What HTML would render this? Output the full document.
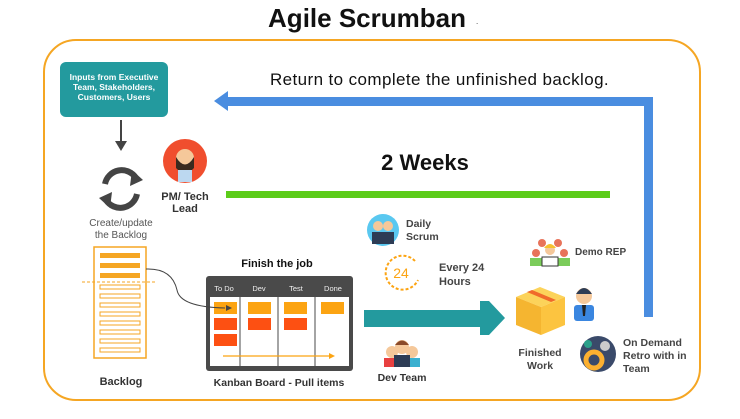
<!DOCTYPE html>
<html><head><meta charset="utf-8"><style>
body{margin:0;width:740px;height:414px;background:#fff;overflow:hidden;font-family:"Liberation Sans","DejaVu Sans",sans-serif;}
svg text{font-family:"Liberation Sans","DejaVu Sans",sans-serif;}
</style></head><body>
<svg width="740" height="414" viewBox="0 0 740 414" xmlns="http://www.w3.org/2000/svg">
<text x="367" y="27" text-anchor="middle" font-size="26" font-weight="bold" fill="#111">Agile Scrumban</text>
<text x="476" y="24" font-size="8" fill="#333">.</text>
<rect x="44" y="40" width="656" height="360" rx="32" fill="none" stroke="#f5a623" stroke-width="2"/>
<rect x="60" y="62" width="108" height="55" rx="6" fill="#239a9e"/>
<text font-size="8.5" font-weight="bold" fill="#fff" text-anchor="middle"><tspan x="114" y="80">Inputs from Executive</tspan><tspan x="114" y="90">Team, Stakeholders,</tspan><tspan x="114" y="100">Customers, Users</tspan></text>
<line x1="121" y1="120" x2="121" y2="142" stroke="#444" stroke-width="2"/>
<polygon points="115,141 127,141 121,151" fill="#444"/>
<path d="M105 184 A17 17 0 0 1 136 178" fill="none" stroke="#444" stroke-width="6"/>
<polygon points="132,170 143,180 130,186" fill="#444"/>
<path d="M137 194 A17 17 0 0 1 106 200" fill="none" stroke="#444" stroke-width="6"/>
<polygon points="110,208 99,198 112,192" fill="#444"/>
<text font-size="10" fill="#555" text-anchor="middle"><tspan x="121" y="226">Create/update</tspan><tspan x="121" y="238">the Backlog</tspan></text>
<circle cx="185" cy="161" r="22" fill="#f04e2e"/>
<circle cx="185" cy="158" r="9" fill="#f5c89a"/>
<path d="M176 157 Q185 172 194 157 L194 168 Q185 178 176 168Z" fill="#3a2a1f"/>
<rect x="178" y="170" width="14" height="12" fill="#bcd8f0"/>
<text font-size="11" font-weight="bold" fill="#333" text-anchor="middle"><tspan x="185" y="200">PM/ Tech</tspan><tspan x="185" y="212">Lead</tspan></text>
<text x="270" y="85" font-size="17" fill="#111" letter-spacing="0.4">Return to complete the unfinished backlog.</text>
<rect x="226" y="97" width="427" height="9" fill="#4a8de0"/>
<polygon points="214,101 228,91 228,111" fill="#4a8de0"/>
<rect x="644" y="97" width="9" height="220" fill="#4a8de0"/>
<text x="425" y="170" font-size="22" font-weight="bold" fill="#111" text-anchor="middle">2 Weeks</text>
<rect x="226" y="191" width="384" height="7" fill="#5ccc1a"/>
<rect x="94" y="247" width="52" height="111" fill="none" stroke="#f5a623" stroke-width="1.5"/>
<g fill="#f5a623"><rect x="100" y="253" width="40" height="5"/><rect x="100" y="263" width="40" height="5"/><rect x="100" y="273" width="40" height="5"/></g>
<line x1="82" y1="282" x2="157" y2="282" stroke="#f5a623" stroke-dasharray="3,2"/>
<g fill="none" stroke="#f5a623" stroke-width="1"><rect x="100" y="285" width="40" height="4"/><rect x="100" y="294" width="40" height="4"/><rect x="100" y="303" width="40" height="4"/><rect x="100" y="312" width="40" height="4"/><rect x="100" y="321" width="40" height="4"/><rect x="100" y="330" width="40" height="4"/><rect x="100" y="339" width="40" height="4"/><rect x="100" y="348" width="40" height="4"/></g>
<text x="121" y="385" font-size="11" font-weight="bold" fill="#333" text-anchor="middle">Backlog</text>
<text x="277" y="267" font-size="11" font-weight="bold" fill="#111" text-anchor="middle">Finish the job</text>
<rect x="206" y="276" width="147" height="95" rx="3" fill="#4a4a4a"/>
<rect x="210" y="297" width="139" height="69" fill="#fff"/>
<g stroke="#4a4a4a" stroke-width="1"><line x1="240" y1="278" x2="240" y2="367"/><line x1="278" y1="278" x2="278" y2="367"/><line x1="315" y1="278" x2="315" y2="367"/></g>
<g font-size="7.5" fill="#eee" text-anchor="middle"><text x="224" y="291">To Do</text><text x="259" y="291">Dev</text><text x="296" y="291">Test</text><text x="333" y="291">Done</text></g>
<g fill="#fca412"><rect x="214" y="302" width="23" height="12"/><rect x="248" y="302" width="23" height="12"/><rect x="284" y="302" width="23" height="12"/><rect x="321" y="302" width="23" height="12"/></g>
<g fill="#fd5012"><rect x="214" y="318" width="23" height="12"/><rect x="248" y="318" width="23" height="12"/><rect x="284" y="318" width="23" height="12"/><rect x="214" y="334" width="23" height="12"/></g>
<path d="M146 269 Q172 268 177 290 Q180 307 225 308" fill="none" stroke="#444" stroke-width="1"/>
<polygon points="226,305 232,308 226,311" fill="#444"/>
<line x1="223" y1="356" x2="330" y2="356" stroke="#fca412" stroke-width="1.2"/>
<polygon points="329,353 335,356 329,359" fill="#fca412"/>
<text x="279" y="386" font-size="10.5" font-weight="bold" fill="#333" text-anchor="middle">Kanban Board  - Pull items</text>
<circle cx="383" cy="230" r="16" fill="#5ac8f0"/>
<rect x="372" y="232" width="22" height="12" fill="#2d3c55"/>
<circle cx="378" cy="226" r="5" fill="#f5c89a"/><circle cx="388" cy="226" r="5" fill="#f5c89a"/>
<text font-size="10.5" font-weight="bold" fill="#444"><tspan x="406" y="227">Daily</tspan><tspan x="406" y="240">Scrum</tspan></text>
<path d="M415 261 A17 17 0 1 0 418 280" fill="none" stroke="#fca412" stroke-width="2" stroke-dasharray="3,2"/>
<text x="401" y="278" font-size="14" fill="#fca412" text-anchor="middle">24</text>
<text font-size="11" font-weight="bold" fill="#444"><tspan x="439" y="271">Every 24</tspan><tspan x="439" y="285">Hours</tspan></text>
<rect x="364" y="310" width="116" height="17" fill="#239a9e"/>
<polygon points="489,301 505,318 489,335 480,335 480,301" fill="#239a9e"/>
<g><circle cx="392" cy="352" r="6" fill="#f5c89a"/><circle cx="412" cy="352" r="6" fill="#f5c89a"/><rect x="384" y="358" width="14" height="9" fill="#e84040"/><rect x="406" y="358" width="14" height="9" fill="#3ab0d0"/><circle cx="402" cy="347" r="7" fill="#f5c89a"/><path d="M395 345 Q402 336 409 345" fill="#8a4a2a"/><rect x="394" y="355" width="16" height="12" fill="#2d3c55"/></g>
<text x="402" y="381" font-size="10.5" font-weight="bold" fill="#333" text-anchor="middle">Dev Team</text>
<g><circle cx="542" cy="243" r="4" fill="#e8735a"/><circle cx="558" cy="243" r="4" fill="#e8735a"/><circle cx="536" cy="253" r="4" fill="#e8735a"/><circle cx="564" cy="253" r="4" fill="#e8735a"/><rect x="530" y="258" width="12" height="8" fill="#7bcc5a"/><rect x="558" y="258" width="12" height="8" fill="#7bcc5a"/><circle cx="550" cy="250" r="5" fill="#f5c89a"/><path d="M544 248 Q550 240 556 248Z" fill="#f5c030"/><rect x="542" y="257" width="16" height="9" fill="#fff" stroke="#333"/></g>
<text x="575" y="255" font-size="10" font-weight="bold" fill="#444">Demo REP</text>
<polygon points="516,297 540,287 565,297 541,307" fill="#fcd35a"/>
<polygon points="516,297 541,307 541,335 516,325" fill="#f5b530"/>
<polygon points="541,307 565,297 565,325 541,335" fill="#fcc440"/>
<polygon points="527,292 551,302 556,300 532,290" fill="#f06a2a"/>
<text font-size="10.5" font-weight="bold" fill="#444" text-anchor="middle"><tspan x="540" y="356">Finished</tspan><tspan x="540" y="369">Work</tspan></text>
<circle cx="584" cy="296" r="8" fill="#f5c89a"/><path d="M576 294 Q584 282 592 294Z" fill="#2d3c55"/>
<rect x="574" y="305" width="20" height="16" rx="3" fill="#3a86e0"/>
<polygon points="582,305 586,305 585,316 583,316" fill="#222"/>
<circle cx="598" cy="354" r="18" fill="#3a4a6a"/>
<circle cx="594" cy="360" r="8" fill="none" stroke="#fcb030" stroke-width="5"/>
<circle cx="605" cy="346" r="5" fill="#ccc"/>
<circle cx="588" cy="344" r="4" fill="#2aa08a"/>
<text font-size="10.5" font-weight="bold" fill="#444"><tspan x="623" y="346">On Demand</tspan><tspan x="623" y="359">Retro with in</tspan><tspan x="623" y="372">Team</tspan></text>
</svg>
</body></html>
